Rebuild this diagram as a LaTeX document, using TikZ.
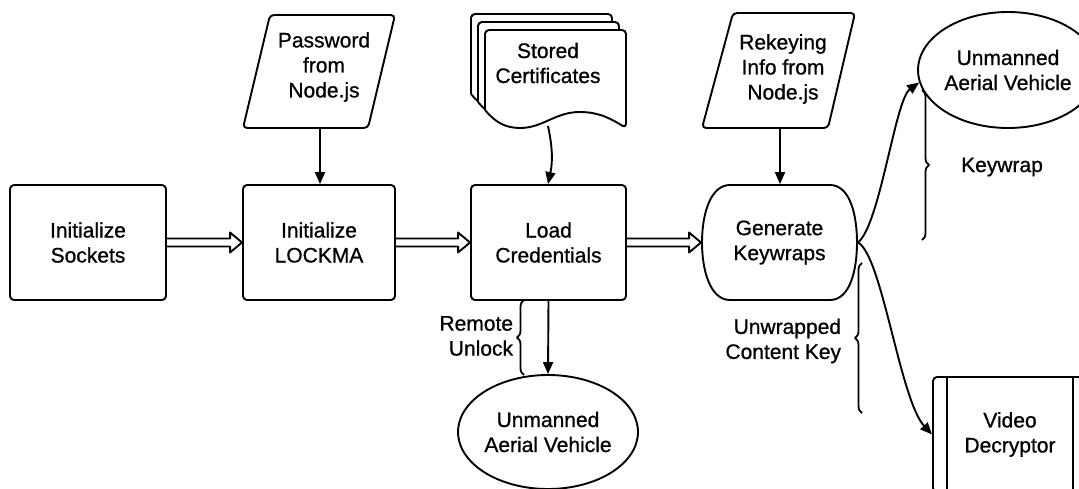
\documentclass[tikz,border=0pt]{standalone}
\usepackage{fontspec}
\setmainfont[FakeBold=0.8,AutoFakeBold=0.8]{Liberation Sans}
\usetikzlibrary{arrows.meta,calc,decorations.pathreplacing,shapes.geometric}

\begin{document}
\begin{tikzpicture}[x=1pt,y=-1pt,
  line width=1.9pt, line join=round,
  every node/.style={font=\fontsize{21}{25}\selectfont\bfseries, align=center, inner sep=0pt},
  stepbox/.style={draw, rounded corners=4pt, minimum width=#1, minimum height=115pt},
  flow/.style={-{Triangle[length=12pt,width=10pt]}},
  brc/.style={decorate, decoration={brace, amplitude=7pt}, line width=1.8pt},
  hollow/.style={to path={
    let \p1=(\tikztostart), \p2=(\tikztotarget) in
    (\x1,\y1+4pt) -- (\x2-12pt,\y1+4pt) -- (\x2-12pt,\y1+10pt) -- (\x2,\y1)
    -- (\x2-12pt,\y1-10pt) -- (\x2-12pt,\y1-4pt) -- (\x1,\y1-4pt)}},
  sheet/.pic={
    \draw[fill=white, rounded corners=4pt] (0,80) -- (0,0) -- (141,0) -- (141,98)
      [sharp corners] .. controls (128,90) and (115,82) .. (95,82)
      .. controls (70,82) and (58,98) .. (35,98)
      .. controls (20,98) and (10,92) .. (0,80);
  }
]
\useasboundingbox (0,0) rectangle (1079,489);

% main processing chain
\node[stepbox=156pt] (s1) at (88,242.5) {Initialize\\Sockets};
\node[stepbox=152pt] (s2) at (319,242.5) {Initialize\\LOCKMA};
\node[stepbox=155pt] (lc) at (548.5,242.5) {Load\\Credentials};

% generate keywraps (bulged sides)
\draw (730,185) -- (830,185) .. controls (850,185) and (857,215) .. (857,242.5)
  .. controls (857,270) and (850,300) .. (830,300) -- (730,300)
  .. controls (710,300) and (702,270) .. (702,242.5)
  .. controls (702,215) and (710,185) .. (730,185) -- cycle;
\node[minimum width=155pt, minimum height=115pt] (gk) at (779.5,242.5) {Generate\\Keywraps};

\draw (s1.east) to[hollow] (s2.west);
\draw (s2.east) to[hollow] (lc.west);
\draw (lc.east) to[hollow] (gk.west);

% password input
\draw[rounded corners=4pt] (270,15) -- (395,15) -- (368,128) -- (243,128) -- cycle;
\node (pw) at (324,67) {Password\\from\\Node.js};
\coordinate (pwb) at (320,128);
\draw[flow] (pwb) -- (pwb |- s2.north);

% stored certificates
\pic at (471,14) {sheet};
\pic at (478,22) {sheet};
\pic at (485,30) {sheet};
\node (cert) at (548,63) {Stored\\Certificates};
\coordinate (certb) at (548,126);
\draw[flow] (certb) to[bend left=12] (certb |- lc.north);

% rekeying input
\draw[rounded corners=4pt] (733,13) -- (855,13) -- (828,128) -- (702,128) -- cycle;
\node (rk) at (783,69) {Rekeying\\Info from\\Node.js};
\coordinate (rkb) at (780,128);
\draw[flow] (rkb) -- (rkb |- gk.north);

% remote unlock branch
\node[draw, ellipse, minimum width=154pt, minimum height=114pt] (uav2) at (548,432) {Unmanned\\Aerial Vehicle};
\draw[flow] (lc.south) -- (uav2.north);
\draw[brc] (524,375) -- (524,300);
\node[anchor=east, align=right] (ru) at (514,336) {Remote\\Unlock};

% keywrap branch
\node[draw, ellipse, minimum width=150pt, minimum height=116pt] (uav1) at (1008,70) {Unmanned\\Aerial Vehicle};
\draw[flow] (gk.east) .. controls (880,225) and (895,100) .. (uav1.188);
\draw[brc] (922,90) -- (922,240);
\node (kw) at (1002,167) {Keywrap};

% content key branch
\node[stepbox=154pt] (vd) at (1010,434.5) {Video\\Decryptor};
\draw ($(vd.north west)+(15,0)$) -- ($(vd.south west)+(15,0)$);
\draw ($(vd.north east)+(-15,0)$) -- ($(vd.south east)+(-15,0)$);
\draw[flow] (gk.east) .. controls (882,255) and (900,400) .. (vd.west);
\draw[brc] (862,413) -- (862,263);
\node[anchor=east, align=right] (uck) at (842,341) {Unwrapped\\Content Key};
\end{tikzpicture}
\end{document}
